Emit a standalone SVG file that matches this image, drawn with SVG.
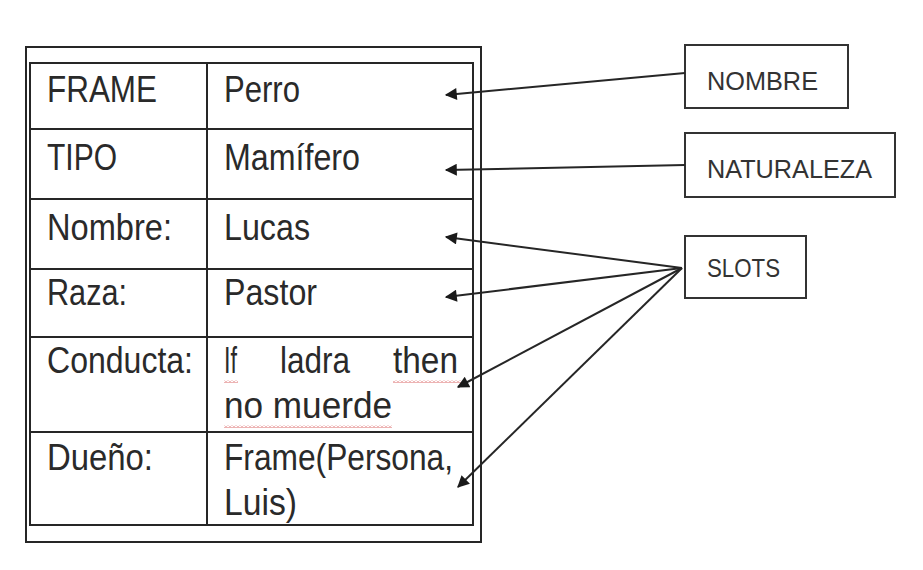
<svg xmlns="http://www.w3.org/2000/svg" width="923" height="570" viewBox="0 0 923 570">
<style>
.ln{fill:none;stroke:#262626;stroke-width:2}
.t{font-family:"Liberation Sans",Arial,sans-serif;font-size:36px;fill:#2a2a2a}
.lb{font-family:"Liberation Sans",Arial,sans-serif;font-size:25px;fill:#333}
.box{fill:#fff;stroke:#333;stroke-width:2}
.c{fill:none;stroke:#262626;stroke-width:2;marker-end:url(#ah)}
</style>
<defs>
<marker id="ah" viewBox="0 0 10 10" refX="9" refY="5" markerWidth="7" markerHeight="6" orient="auto" markerUnits="strokeWidth">
<path d="M0,0 L10,5 L0,10 Z" fill="#1a1a1a"/>
</marker>
<pattern id="wave" width="4" height="3" patternUnits="userSpaceOnUse">
<path d="M0,2.5 L2,0.5 L4,2.5" fill="none" stroke="#d04040" stroke-width="0.8"/>
</pattern>
</defs>
<rect width="923" height="570" fill="#fff"/>
<g id="frame">
<rect class="ln" x="26" y="47" width="455" height="495"/>
<rect class="ln" x="30" y="63" width="443" height="462"/>
<line class="ln" x1="207" y1="63" x2="207" y2="525"/>
<line class="ln" x1="30" y1="129" x2="473" y2="129"/>
<line class="ln" x1="30" y1="199" x2="473" y2="199"/>
<line class="ln" x1="30" y1="269" x2="473" y2="269"/>
<line class="ln" x1="30" y1="337" x2="473" y2="337"/>
<line class="ln" x1="30" y1="432" x2="473" y2="432"/>
<text class="t" x="47" y="102" textLength="110" lengthAdjust="spacingAndGlyphs">FRAME</text>
<text class="t" x="224" y="102" textLength="76" lengthAdjust="spacingAndGlyphs">Perro</text>
<text class="t" x="47" y="170" textLength="70" lengthAdjust="spacingAndGlyphs">TIPO</text>
<text class="t" x="224" y="170" textLength="136" lengthAdjust="spacingAndGlyphs">Mamífero</text>
<text class="t" x="47" y="240" textLength="125" lengthAdjust="spacingAndGlyphs">Nombre:</text>
<text class="t" x="224" y="240" textLength="86" lengthAdjust="spacingAndGlyphs">Lucas</text>
<text class="t" x="47" y="305" textLength="80" lengthAdjust="spacingAndGlyphs">Raza:</text>
<text class="t" x="224" y="305" textLength="93" lengthAdjust="spacingAndGlyphs">Pastor</text>
<text class="t" x="47" y="373" textLength="146" lengthAdjust="spacingAndGlyphs">Conducta:</text>
<text class="t" x="224" y="373" textLength="13" lengthAdjust="spacingAndGlyphs">If</text>
<text class="t" x="280" y="373" textLength="70" lengthAdjust="spacingAndGlyphs">ladra</text>
<text class="t" x="393" y="373" textLength="65" lengthAdjust="spacingAndGlyphs">then</text>
<text class="t" x="224" y="418" textLength="168" lengthAdjust="spacingAndGlyphs">no muerde</text>
<text class="t" x="47" y="470" textLength="106" lengthAdjust="spacingAndGlyphs">Dueño:</text>
<text class="t" x="224" y="470" textLength="229" lengthAdjust="spacingAndGlyphs">Frame(Persona,</text>
<text class="t" x="224" y="515" textLength="73" lengthAdjust="spacingAndGlyphs">Luis)</text>
<rect x="224" y="380" width="14" height="3" fill="url(#wave)"/>
<rect x="393" y="380" width="68" height="3" fill="url(#wave)"/>
<rect x="224" y="425" width="168" height="3" fill="url(#wave)"/>
</g>
<g id="nombre">
<rect class="box" x="685" y="45" width="163" height="63"/>
<text class="lb" x="707" y="90" textLength="111" lengthAdjust="spacingAndGlyphs">NOMBRE</text>
</g>
<g id="naturaleza">
<rect class="box" x="685" y="133" width="210" height="64"/>
<text class="lb" x="707" y="178" textLength="165" lengthAdjust="spacingAndGlyphs">NATURALEZA</text>
</g>
<g id="slots">
<rect class="box" x="685" y="236" width="121" height="62"/>
<text class="lb" x="707" y="277" textLength="73" lengthAdjust="spacingAndGlyphs">SLOTS</text>
</g>
<g id="connectors">
<line class="c" x1="685" y1="73" x2="446" y2="95"/>
<line class="c" x1="685" y1="165" x2="446" y2="170"/>
<line class="c" x1="682" y1="268" x2="446" y2="237"/>
<line class="c" x1="682" y1="268" x2="446" y2="297"/>
<line class="c" x1="682" y1="268" x2="458" y2="387"/>
<line class="c" x1="682" y1="268" x2="458" y2="487"/>
</g>
</svg>
